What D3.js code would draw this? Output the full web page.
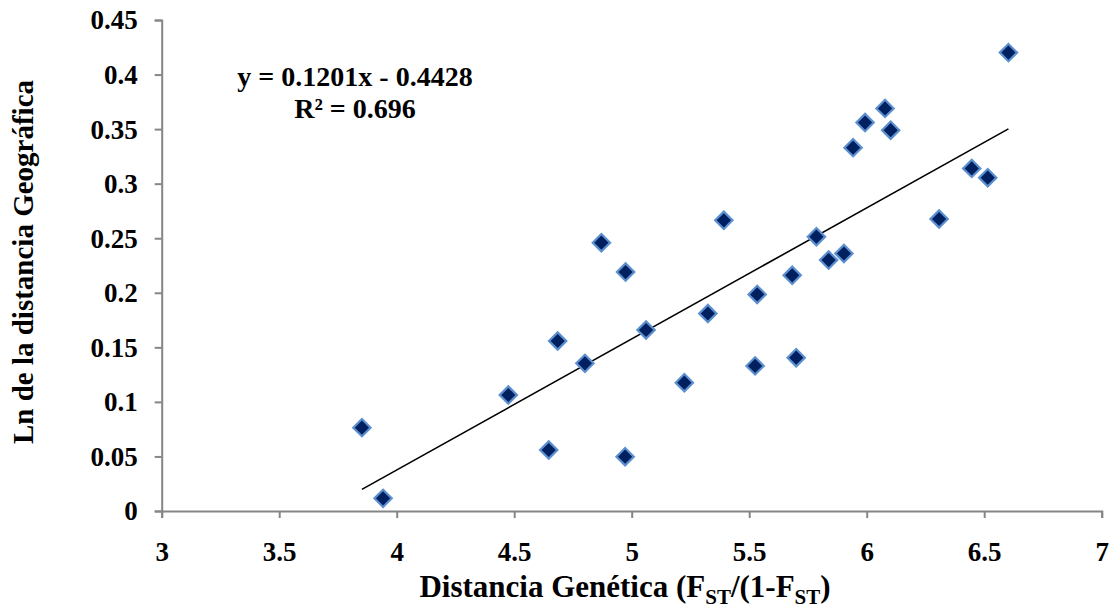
<!DOCTYPE html>
<html>
<head>
<meta charset="utf-8">
<script src="https://cdn.jsdelivr.net/npm/d3@7"></script>
<style>
  body { margin: 0; background: #fff; }
  svg text { font-family: "Liberation Serif", "Times New Roman", serif; font-weight: bold; fill: #000; }
</style>
</head>
<body>
<svg width="1110" height="612"></svg>
<script>
// distancia genetica (x) and ln distancia geografica (y)
var xVals = [3.852, 3.942, 4.475, 4.647, 4.685, 4.801, 4.871, 4.974, 4.972, 5.061,
             5.224, 5.324, 5.392, 5.525, 5.534, 5.683, 5.700, 5.786, 5.838, 5.903,
             5.942, 5.993, 6.078, 6.102, 6.308, 6.447, 6.515, 6.603];
var yVals = [0.0764, 0.0116, 0.1063, 0.0559, 0.1558, 0.1353, 0.2459, 0.219, 0.0498, 0.1659,
             0.1176, 0.181, 0.2664, 0.133, 0.1985, 0.216, 0.1405, 0.2514, 0.230, 0.236,
             0.333, 0.356, 0.369, 0.349, 0.2676, 0.314, 0.3055, 0.4201];
var xTicks = [3, 3.5, 4, 4.5, 5, 5.5, 6, 6.5, 7];
var yTicks = [0, 0.05, 0.1, 0.15, 0.2, 0.25, 0.3, 0.35, 0.4, 0.45];
var slope = 0.1201;
var intercept = -0.4428;
var eqLabels = ["y = 0.1201x - 0.4428", "R\u00b2 = 0.696"];

var data = xVals.map(function(d, i) { return {x: d, y: yVals[i]}; });

var svg = d3.select("svg");

var x = d3.scaleLinear().domain([3, 7]).range([161.7, 1101.7]);
var y = d3.scaleLinear().domain([0, 0.45]).range([511, 20]);

var axisColor = "#868686";

// y axis
var yAxis = svg.append("g")
  .attr("transform", "translate(161.7,0)")
  .call(d3.axisLeft(y).tickValues(yTicks).tickSize(7).tickPadding(17)
    .tickFormat(function(d) { return d3.format("")(+d.toFixed(2)); }));
yAxis.select(".domain").attr("stroke", axisColor).attr("stroke-width", 2);
yAxis.selectAll(".tick line").attr("stroke", axisColor).attr("stroke-width", 2);
yAxis.selectAll(".tick text").attr("font-size", 27).attr("dy", "0.33em");

// x axis
var xAxis = svg.append("g")
  .attr("transform", "translate(0,511)")
  .call(d3.axisBottom(x).tickValues(xTicks).tickSize(7).tickPadding(24)
    .tickFormat(function(d) { return d3.format("")(d); }));
xAxis.select(".domain").attr("stroke", axisColor).attr("stroke-width", 2);
xAxis.selectAll(".tick line").attr("stroke", axisColor).attr("stroke-width", 2);
xAxis.selectAll(".tick text").attr("font-size", 27);

// trend line
var xr = d3.extent(xVals);
svg.append("line")
  .attr("x1", x(xr[0]))
  .attr("y1", y(slope * xr[0] + intercept))
  .attr("x2", x(xr[1]))
  .attr("y2", y(slope * xr[1] + intercept))
  .attr("stroke", "#000")
  .attr("stroke-width", 1.6);

// points
var diamond = d3.symbol().type(d3.symbolSquare).size(150);
svg.selectAll("path.pt")
  .data(data)
  .enter()
  .append("path")
  .attr("class", "pt")
  .attr("d", diamond)
  .attr("transform", function(d) {
    return "translate(" + x(d.x) + "," + y(d.y) + ") rotate(45)";
  })
  .attr("fill", "#00205f")
  .attr("stroke", "#5b8fcf")
  .attr("stroke-width", 2.2);

// equation
svg.selectAll("text.eq")
  .data(eqLabels)
  .enter()
  .append("text")
  .attr("class", "eq")
  .attr("x", 355)
  .attr("y", function(d, i) { return 86 + i * 32; })
  .attr("text-anchor", "middle")
  .attr("font-size", 28)
  .text(function(d) { return d; });

// axis titles
var xt = svg.append("text")
  .attr("x", 625)
  .attr("y", 597)
  .attr("text-anchor", "middle")
  .attr("font-size", 31);
xt.append("tspan").text("Distancia Genética (F");
xt.append("tspan").attr("font-size", 21).attr("dy", 7).text("ST");
xt.append("tspan").attr("dy", -7).text("/(1-F");
xt.append("tspan").attr("font-size", 21).attr("dy", 7).text("ST");
xt.append("tspan").attr("dy", -7).text(")");

svg.append("text")
  .attr("transform", "translate(33,262) rotate(-90)")
  .attr("text-anchor", "middle")
  .attr("font-size", 29)
  .text("Ln de la distancia Geográfica");
</script>
</body>
</html>
